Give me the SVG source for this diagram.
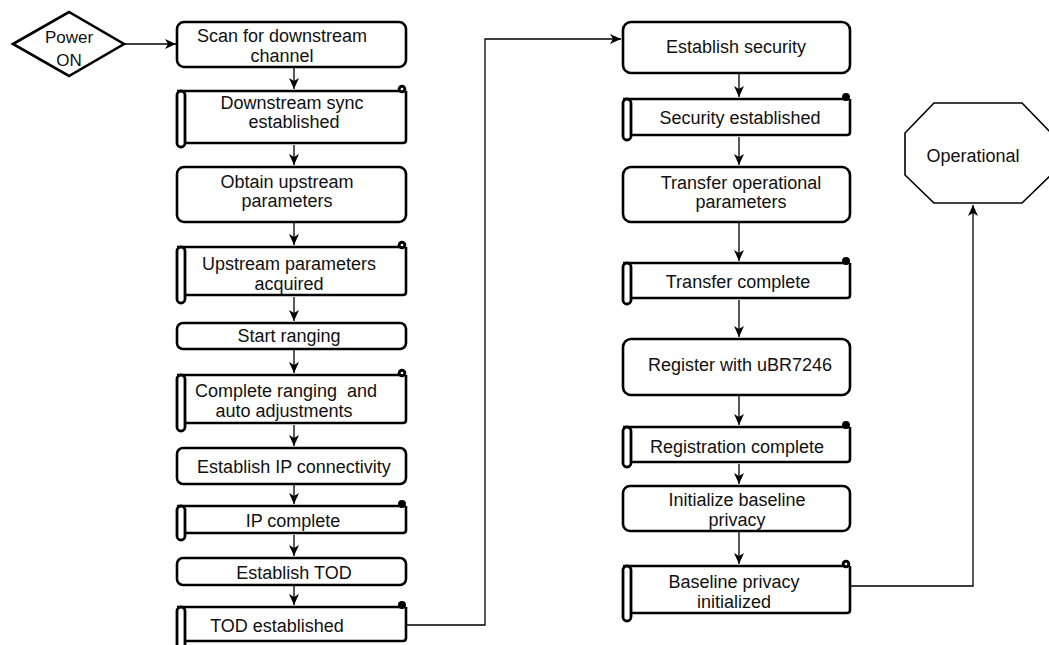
<svg xmlns="http://www.w3.org/2000/svg" width="1049" height="645" viewBox="0 0 1049 645">
<style>
text{font-family:"Liberation Sans",Arial,sans-serif;font-size:18px;fill:#111;text-anchor:middle}
.box{fill:#fff;stroke:#000;stroke-width:2.6}
.sc{fill:none;stroke:#000;stroke-width:2.6;stroke-linejoin:round}
.roll{fill:#fff;stroke:#000;stroke-width:2.8}
.curl{fill:#000}
.dot{fill:#fff}
.thin{fill:#fff;stroke:#000;stroke-width:1.6}
.ln{fill:none;stroke:#000;stroke-width:1.3}
</style>
<defs>
<marker id="ah" markerUnits="userSpaceOnUse" markerWidth="12" markerHeight="10" refX="11" refY="5" orient="auto">
<path d="M0,0 L11,5 L0,10 L3,5 z" fill="#000"/>
</marker>
</defs>
<g id="connectors">
<path class="ln" d="M124,44 H176" marker-end="url(#ah)"/>
<path class="ln" d="M294,67 V89" marker-end="url(#ah)"/>
<path class="ln" d="M294,145 V165" marker-end="url(#ah)"/>
<path class="ln" d="M294,222 V245" marker-end="url(#ah)"/>
<path class="ln" d="M294,297 V321" marker-end="url(#ah)"/>
<path class="ln" d="M294,349 V373" marker-end="url(#ah)"/>
<path class="ln" d="M294,425 V446" marker-end="url(#ah)"/>
<path class="ln" d="M294,484 V504" marker-end="url(#ah)"/>
<path class="ln" d="M294,535 V556" marker-end="url(#ah)"/>
<path class="ln" d="M294,585 V605" marker-end="url(#ah)"/>
<path class="ln" d="M406,625 H485 V39 H621" marker-end="url(#ah)"/>
<path class="ln" d="M739,73 V97" marker-end="url(#ah)"/>
<path class="ln" d="M739,137 V165" marker-end="url(#ah)"/>
<path class="ln" d="M739,222 V261" marker-end="url(#ah)"/>
<path class="ln" d="M739,300 V337" marker-end="url(#ah)"/>
<path class="ln" d="M739,395 V425" marker-end="url(#ah)"/>
<path class="ln" d="M739,464 V484" marker-end="url(#ah)"/>
<path class="ln" d="M739,531 V564" marker-end="url(#ah)"/>
<path class="ln" d="M850,586 H973 V205" marker-end="url(#ah)"/>
</g>
<g id="power-on">
<polygon class="box" points="13,44 69,12 124,44 69,76"/>
<text x="69" y="43" style="font-size:17px">Power</text>
<text x="69" y="66" style="font-size:17px">ON</text>
</g>
<g id="scan">
<rect class="box" x="177" y="22" width="229" height="45" rx="7"/>
<text x="282" y="42">Scan for downstream</text>
<text x="282" y="62">channel</text>
</g>
<g id="ds-sync">
<path class="sc" d="M185,143 H403 Q406,143 406,140 V91 M177,91 H403"/>
<rect class="roll" x="177" y="91" width="8" height="56" rx="4"/>
<circle class="curl" cx="402" cy="89" r="4.3"/><circle class="dot" cx="402" cy="89" r="1.3"/>
<text x="292" y="109">Downstream sync</text>
<text x="294" y="128">established</text>
</g>
<g id="obtain-up">
<rect class="box" x="177" y="167" width="229" height="55" rx="7"/>
<text x="287" y="188">Obtain upstream</text>
<text x="287" y="207">parameters</text>
</g>
<g id="up-acquired">
<path class="sc" d="M185,295 H403 Q406,295 406,292 V247 M177,247 H403"/>
<rect class="roll" x="177" y="247" width="8" height="56" rx="4"/>
<circle class="curl" cx="402" cy="245" r="4.3"/><circle class="dot" cx="402" cy="245" r="1.3"/>
<text x="289" y="270">Upstream parameters</text>
<text x="289" y="290">acquired</text>
</g>
<g id="start-ranging">
<rect class="box" x="177" y="323" width="229" height="26" rx="6"/>
<text x="289" y="342">Start ranging</text>
</g>
<g id="complete-ranging">
<path class="sc" d="M185,423 H403 Q406,423 406,420 V375 M177,375 H403"/>
<rect class="roll" x="177" y="375" width="8" height="56" rx="4"/>
<circle class="curl" cx="402" cy="373" r="4.3"/><circle class="dot" cx="402" cy="373" r="1.3"/>
<text x="286" y="397" xml:space="preserve">Complete ranging  and</text>
<text x="284" y="417">auto adjustments</text>
</g>
<g id="establish-ip">
<rect class="box" x="177" y="448" width="229" height="36" rx="6"/>
<text x="294" y="473">Establish IP connectivity</text>
</g>
<g id="ip-complete">
<path class="sc" d="M185,533 H403 Q406,533 406,530 V506 M177,506 H403"/>
<rect class="roll" x="177" y="506" width="8" height="34" rx="4"/>
<circle class="curl" cx="402" cy="504" r="4"/>
<text x="293" y="527">IP complete</text>
</g>
<g id="establish-tod">
<rect class="box" x="177" y="558" width="229" height="27" rx="6"/>
<text x="294" y="579">Establish TOD</text>
</g>
<g id="tod-established">
<path class="sc" d="M185,641 H403 Q406,641 406,638 V607 M177,607 H403"/>
<rect class="roll" x="177" y="607" width="8" height="44" rx="4"/>
<circle class="curl" cx="402" cy="605" r="4"/>
<text x="277" y="632">TOD established</text>
</g>
<g id="establish-security">
<rect class="box" x="623" y="22" width="227" height="51" rx="8"/>
<text x="736" y="53">Establish security</text>
</g>
<g id="security-established">
<path class="sc" d="M631,135 H847 Q850,135 850,132 V99 M623,99 H847"/>
<rect class="roll" x="623" y="99" width="8" height="41" rx="4"/>
<circle class="curl" cx="846" cy="97" r="4"/>
<text x="740" y="124">Security established</text>
</g>
<g id="transfer-params">
<rect class="box" x="623" y="167" width="227" height="55" rx="8"/>
<text x="741" y="189">Transfer operational</text>
<text x="741" y="208">parameters</text>
</g>
<g id="transfer-complete">
<path class="sc" d="M631,298 H847 Q850,298 850,295 V263 M623,263 H847"/>
<rect class="roll" x="623" y="263" width="8" height="41" rx="4"/>
<circle class="curl" cx="846" cy="261" r="4"/>
<text x="738" y="288">Transfer complete</text>
</g>
<g id="register">
<rect class="box" x="623" y="339" width="227" height="56" rx="8"/>
<text x="740" y="371">Register with uBR7246</text>
</g>
<g id="registration-complete">
<path class="sc" d="M631,462 H847 Q850,462 850,459 V427 M623,427 H847"/>
<rect class="roll" x="623" y="427" width="8" height="40" rx="4"/>
<circle class="curl" cx="846" cy="425" r="4"/>
<text x="737" y="453">Registration complete</text>
</g>
<g id="init-bpi">
<rect class="box" x="623" y="486" width="227" height="45" rx="7"/>
<text x="737" y="506">Initialize baseline</text>
<text x="737" y="526">privacy</text>
</g>
<g id="bpi-initialized">
<path class="sc" d="M631,613 H847 Q850,613 850,610 V566 M623,566 H847"/>
<rect class="roll" x="623" y="566" width="8" height="55" rx="4"/>
<circle class="curl" cx="846" cy="564" r="4.3"/><circle class="dot" cx="846" cy="564" r="1.3"/>
<text x="734" y="588">Baseline privacy</text>
<text x="734" y="608">initialized</text>
</g>
<g id="operational">
<polygon class="thin" points="934,103 1022,103 1051,133 1051,175 1022,203 934,203 905,175 905,133"/>
<text x="973" y="162">Operational</text>
</g>
</svg>
